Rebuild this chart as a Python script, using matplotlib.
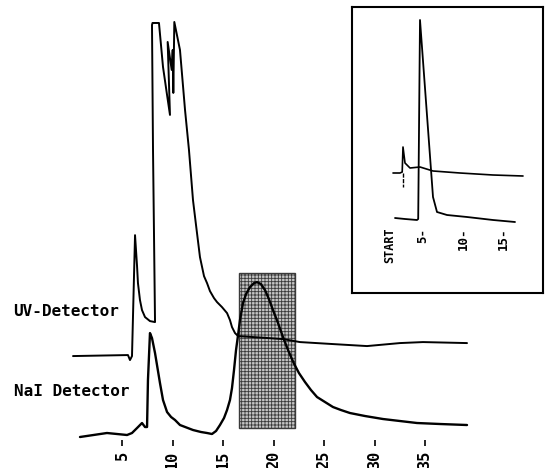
import matplotlib.pyplot as plt
from matplotlib.patches import Rectangle

# main chromatogram: retention time (min) vs response (arbitrary units)
uv_t = [0.15, 5.59, 5.79, 5.99, 6.29, 6.49, 6.58, 6.78, 6.98, 7.28, 7.77, 8.27, 8.07,
        7.97, 8.02, 8.66, 9.06, 9.46, 9.75, 9.52, 9.92, 10.02, 10.08, 10.18, 10.74,
        11.24, 11.63, 12.03, 12.33, 12.72, 13.12, 13.42, 13.71, 14.11, 14.41, 14.90,
        15.40, 15.69, 15.89, 16.19, 16.49, 18.5, 20.94, 22.62, 25.89, 29.26, 32.52,
        34.80, 39.16]
uv_v = [0, 0.3, -1.2, 0, 36.3, 27.0, 21.9, 16.8, 13.8, 11.7, 10.5, 10.2, 61.9,
        99.4, 100, 100, 86.8, 78.4, 72.4, 94.3, 85.9, 91.9, 79.0, 100.3, 91.9,
        73.9, 61.9, 46.8, 39.3, 29.7, 24.0, 21.9, 19.5, 17.4, 16.2, 14.7,
        12.9, 10.8, 8.7, 6.9, 6.0, 5.6, 5.1, 4.2, 3.6, 3.0, 3.9,
        4.2, 3.9]

nai_t = [0.84, 3.51, 5.50, 5.99, 6.49, 6.98, 7.28, 7.48, 7.57, 7.77, 7.97, 8.27, 8.76,
         9.06, 9.46, 9.86, 10.25, 10.74, 12.03, 12.82, 13.42, 13.91, 14.31, 14.70,
         15.10, 15.40, 15.69, 15.89, 16.09, 16.29, 16.49, 16.68, 16.98, 17.28, 17.67,
         18.07, 18.37, 18.76, 19.16, 19.55, 19.95, 20.45, 20.94, 21.44, 22.00, 22.52,
         23.12, 23.71, 24.31, 25.10, 25.89, 26.68, 27.57, 29.06, 30.84, 32.52, 34.21,
         36.49, 39.16]
nai_v = [-0.6, 0.6, 0, 0.6, 2.1, 3.6, 2.4, 2.4, 16.5, 30.6, 29.1, 24.6, 15.6,
         10.5, 6.9, 5.4, 4.5, 3.0, 1.5, 0.9, 0.6, 0.3, 1.2, 3.0,
         5.1, 7.5, 10.5, 14.1, 19.5, 25.5, 30.0, 34.5, 39.6, 42.3, 44.4,
         45.6, 45.9, 45.3, 43.5, 40.8, 37.5, 33.6, 29.4, 25.5, 21.6, 18.6,
         15.9, 13.5, 11.4, 9.9, 8.4, 7.5, 6.6, 5.7, 4.8, 4.2, 3.6,
         3.3, 3.0]
nai_offset = -23.7

fraction = (16.58, 22.13)   # collected fraction window (min)
fraction_v = (-21.6, 24.9)

main_ticks = [5, 10, 15, 20, 25, 30, 35]

# inset chromatogram
ins_uv_t = [1.25, 2.125, 2.4, 2.5, 2.75, 3.375, 4.625, 6.25, 9.625, 13.75, 17.5]
ins_uv_v = [0, 0, 0.5, 13, 5, 2.5, 3, 1, 0, -1, -1.5]
ins_mark_t = [2.5, 2.5]
ins_mark_v = [0, -7]
ins_nai_t = [1.5, 2.75, 4.25, 4.4, 4.625, 6.25, 6.75, 8.0, 10.5, 13.75, 16.5]
ins_nai_v = [0, -0.5, -1, -0.5, 99, 10.5, 3, 1.5, 0.5, -1, -2]
ins_uv_offset = 22.5
ins_ticks = [5, 10, 15]
ins_labels = ['5-', '10-', '15-']

W, H = 548, 468
mono = 'DejaVu Sans Mono'
plt.rcParams['hatch.linewidth'] = 0.6
line_kw = dict(color='black', solid_joinstyle='round', solid_capstyle='round')

fig = plt.figure(figsize=(W / 100, H / 100), dpi=100)

ax = fig.add_axes([71.5 / W, 28 / H, 404 / W, 440 / H])
ax.set_xlim(0, 40)
ax.set_ylim(-25.2, 106.9)
ax.add_patch(Rectangle((fraction[0], fraction_v[0]), fraction[1] - fraction[0],
                       fraction_v[1] - fraction_v[0], facecolor='#c4c4c4',
                       edgecolor='#3a3a3a', hatch='+++++', lw=1.0, zorder=1))
ax.plot(uv_t, uv_v, lw=1.4, zorder=3, **line_kw)
ax.plot(nai_t, [v + nai_offset for v in nai_v], lw=1.7, zorder=3, **line_kw)
for s in ax.spines.values():
    s.set_visible(False)
ax.set_yticks([])
ax.set_xticks(main_ticks)
ax.set_xticklabels([str(t) for t in main_ticks], rotation=90,
                   fontfamily=mono, fontweight='bold', fontsize=11)
ax.tick_params(axis='x', length=4, width=1.2, pad=4)

fig.text(13 / W, 1 - 311 / H, 'UV-Detector', fontfamily=mono, fontweight='bold',
         fontsize=11.5, ha='left', va='center')
fig.text(14 / W, 1 - 391 / H, 'NaI Detector', fontfamily=mono, fontweight='bold',
         fontsize=11.5, ha='left', va='center')

# inset frame
box = fig.add_axes([352 / W, 1 - 293 / H, 191 / W, 286 / H])
box.set_xticks([])
box.set_yticks([])
for s in box.spines.values():
    s.set_linewidth(1.5)

ins = fig.add_axes([352 / W, 1 - 225 / H, 191 / W, 218 / H])
ins.patch.set_alpha(0)
ins.set_xlim(-3.875, 20)
ins.set_ylim(-3.5, 105.5)
ins.plot(ins_uv_t, [v + ins_uv_offset for v in ins_uv_v], lw=1.2, **line_kw)
ins.plot(ins_mark_t, [v + ins_uv_offset for v in ins_mark_v], color='black',
         lw=1.0, ls=(0, (3, 1)))
ins.plot(ins_nai_t, ins_nai_v, lw=1.3, **line_kw)
for s in ins.spines.values():
    s.set_visible(False)
ins.set_yticks([])
ins.set_xticks(ins_ticks)
ins.set_xticklabels(ins_labels, rotation=90, fontfamily=mono, fontweight='bold',
                    fontsize=9)
ins.tick_params(axis='x', length=0, pad=2)
ins.text(0.875, -4.5, 'START', rotation=90, fontfamily=mono, fontweight='bold',
         fontsize=8.5, ha='center', va='top')

fig.savefig('out.png', dpi=100)
